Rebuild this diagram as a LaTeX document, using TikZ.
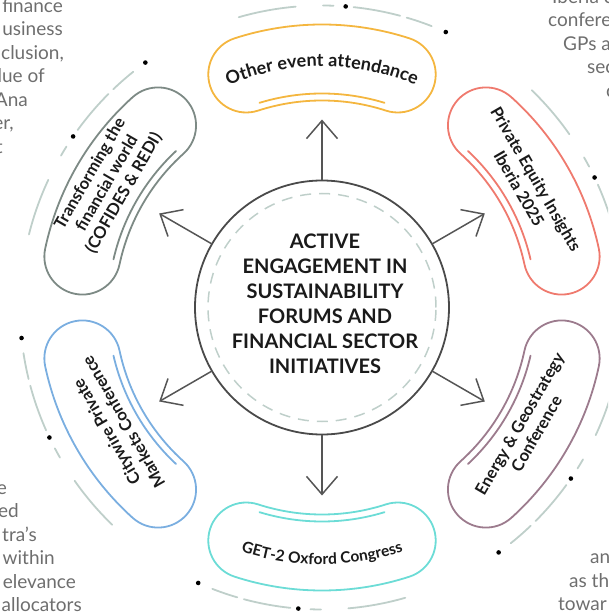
\documentclass[tikz,border=0pt]{standalone}
\usepackage{fontspec}
\setmainfont{Lato}
\usetikzlibrary{arrows.meta,decorations.text}

\definecolor{amber}{HTML}{F4B63F}
\definecolor{coral}{HTML}{EF7A6E}
\definecolor{mauve}{HTML}{9C7B8D}
\definecolor{teal}{HTML}{6CDCD6}
\definecolor{sky}{HTML}{7AAEE0}
\definecolor{sage}{HTML}{7D8A85}
\definecolor{ringgray}{HTML}{BFCFCA}
\definecolor{hubgray}{HTML}{4A4A4A}
\definecolor{arrowgray}{HTML}{555555}
\definecolor{inkgray}{HTML}{6E6E6E}
\definecolor{ink}{HTML}{1A1A1A}

\begin{document}
\begin{tikzpicture}[x=1pt,y=1pt,
  petal/.style={line width=1.8pt, line cap=round},
  ring/.style={draw=ringgray, line width=1.8pt, line cap=round},
  dotmark/.style={fill=black},
  hub/.style={circle, draw=hubgray, line width=1.8pt, minimum size=254pt, inner sep=0pt},
  innerring/.style={draw=ringgray, line width=1.5pt, dash pattern=on 11pt off 8pt},
  spoke/.style={draw=arrowgray, line width=1.5pt,
    -{Straight Barb[length=18pt,width=31pt,line width=1.5pt]}},
  title/.style={align=center, text=ink, font=\fontsize{20}{25}\selectfont\bfseries},
  label/.style={align=center, text=ink, inner sep=0pt, font=\fontsize{16.5}{19.5}\selectfont\bfseries},
  bgtext/.style={text=inkgray, font=\fontsize{19}{23}\selectfont, inner sep=0pt}
]
\useasboundingbox (-322,-307.5) rectangle (286,307.5);
\clip (-322,-307.5) rectangle (286,307.5);

% surrounding paragraph fragments
\node[bgtext, anchor=base east] (tl1) at (-259,295) {finance};
\node[bgtext, anchor=base east] (tl2) at (-259,271.5) {usiness};
\node[bgtext, anchor=base east] (tl3) at (-258,248) {clusion,};
\node[bgtext, anchor=base east] (tl4) at (-277,224.5) {lue of};
\node[bgtext, anchor=base east] (tl5) at (-294,201) {Ana};
\node[bgtext, anchor=base east] (tl6) at (-308,177.5) {er,};
\node[bgtext, anchor=base east] (tl7) at (-319,154) {t};

\node[bgtext, anchor=base west] (tr1) at (230,304) {Iberia c};
\node[bgtext, anchor=base west] (tr2) at (226,280.5) {confere};
\node[bgtext, anchor=base west] (tr3) at (241,257) {GPs a};
\node[bgtext, anchor=base west] (tr4) at (265,233.5) {sec};
\node[bgtext, anchor=base west] (tr5) at (284,210) {c};

\node[bgtext, anchor=base east] (bl1) at (-315,-186.5) {e};
\node[bgtext, anchor=base east] (bl2) at (-303,-210) {ed};
\node[bgtext, anchor=base east] (bl3) at (-285,-233.5) {tra's};
\node[bgtext, anchor=base east] (bl4) at (-267,-257) {within};
\node[bgtext, anchor=base east] (bl5) at (-246,-280.5) {elevance};
\node[bgtext, anchor=base east] (bl6) at (-240,-304) {allocators};

\node[bgtext, anchor=base west] (br1) at (268,-256) {an};
\node[bgtext, anchor=base west] (br2) at (247,-279.5) {as th};
\node[bgtext, anchor=base west] (br3) at (236,-303) {towar};

% broken outer ring with dots
\foreach \t in {90,30,-30,-90,-150,150}{
  \draw[ring] (\t+16:302) arc[start angle=\t+16, end angle=\t+5, radius=302];
  \draw[ring] (\t-0.2:302) arc[start angle=\t-0.2, end angle=\t-2.2, radius=302];
  \draw[ring] (\t-6:302) arc[start angle=\t-6, end angle=\t-15, radius=302];
  \draw[ring] (\t-16.3:302) arc[start angle=\t-16.3, end angle=\t-21.3, radius=302];
  \fill[dotmark] (\t-4.5:302) circle (2.3);
  \fill[dotmark] (\t-24.2:302) circle (2.3);
}

% bean-shaped petals with an inner accent line
\foreach \t/\c in {90/amber,30/coral,-30/mauve,-90/teal,-150/sky,150/sage}{
  \draw[petal, draw=\c]
    (\t+18:283) arc[start angle=\t+18, end angle=\t-18, radius=283]
    arc[start angle=\t-18, end angle=\t-198, radius=38]
    arc[start angle=\t-18, end angle=\t+18, radius=207]
    arc[start angle=\t+198, end angle=\t+18, radius=38] -- cycle;
  \draw[petal, draw=\c] (\t+17:214) arc[start angle=\t+17, end angle=\t-17, radius=214];
}

% hub
\node[hub] (hub) at (0,0) {};
\draw[innerring] (hub.center) circle (114);
\node[title] (hubtext) at (3,3.5) {ACTIVE\\ENGAGEMENT IN\\SUSTAINABILITY\\FORUMS AND\\FINANCIAL SECTOR\\INITIATIVES};

% spokes
\foreach \t in {90,30,-30,-90,-150,150}{
  \coordinate (tip\t) at (\t:188);
  \draw[spoke] (hub.\t) -- (tip\t);
}

% curved labels
\path[decorate, decoration={text along path, text align=center,
  text={|\fontsize{18}{20}\selectfont\bfseries\color{ink}|Other event attendance}}]
  (130:241) arc[start angle=130, end angle=50, radius=241];
\path[decorate, decoration={text along path, text align=center,
  text={|\fontsize{15.5}{20}\selectfont\bfseries\color{ink}|GET-2 Oxford Congress}}]
  (-130:257) arc[start angle=-130, end angle=-50, radius=257];

% straight labels
\node[label, rotate=-60] (pe) at (31:240) {Private Equity Insights\\Iberia 2025};
\node[label, rotate=60] (eg) at (-30.5:239) {Energy \& Geostrategy\\Conference};
\node[label, rotate=120] (cw) at (-150:239) {Citywire Private\\Markets Conference};
\node[label, rotate=60] (tf) at (150:248) {Transforming the\\financial world\\(COFIDES \& REDI)};
\end{tikzpicture}
\end{document}
